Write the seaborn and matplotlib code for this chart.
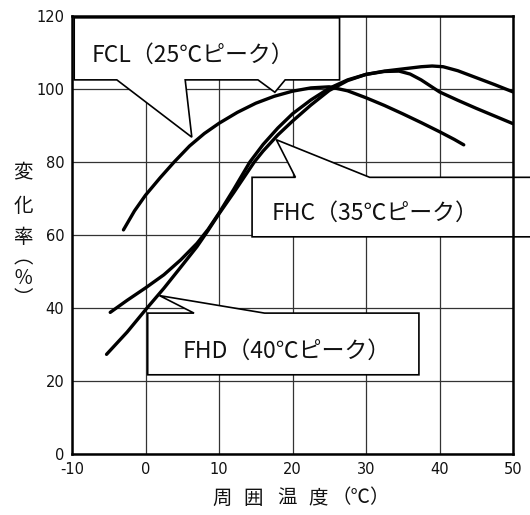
import matplotlib
matplotlib.use("Agg")
import matplotlib.pyplot as plt
from matplotlib.patches import Polygon
import seaborn as sns
import pandas as pd

# ---- data ----
FCL_T = [-3, -1.5, 0, 2, 3.9, 6, 8, 10, 12.5, 15, 17.5, 20, 22.5, 25, 27.5, 30,
         32.5, 35, 37.5, 40, 42, 43.3]
FCL_V = [61.4, 66.6, 70.9, 75.7, 80.0, 84.4, 87.8, 90.6, 93.6, 96.1, 98.0, 99.4,
         100.3, 100.6, 99.5, 97.6, 95.5, 93.2, 90.8, 88.3, 86.2, 84.7]

FHC_T = [-4.8, -2.5, 0, 2.5, 4.8, 7, 8.5, 10, 12, 14.2, 16, 18, 20, 22.5, 25,
         27.5, 30, 32.5, 34.5, 36, 37.5, 40, 42.5, 45, 47.5, 50]
FHC_V = [38.8, 42.1, 45.5, 49.1, 53.2, 57.7, 61.5, 66.0, 72.5, 80.0, 84.8, 89.3,
         93.2, 97.0, 100.2, 102.5, 104.0, 104.8, 104.9, 104.1, 102.5, 99.2, 96.9,
         94.7, 92.6, 90.5]

FHD_T = [-5.3, -2.5, 0, 2.5, 4.8, 7, 8.5, 10, 12, 14.8, 16, 18, 20, 22.5, 25,
         27.5, 30, 32.5, 35, 37.5, 39, 40.5, 42.5, 45, 47.5, 50]
FHD_V = [27.3, 33.4, 39.5, 45.4, 51.2, 56.8, 61.2, 65.8, 71.6, 80.0, 83.0, 87.4,
         91.2, 95.6, 99.6, 102.3, 104.0, 104.9, 105.5, 106.1, 106.3, 106.1, 105.0,
         103.1, 101.2, 99.2]

SERIES = ["FCL", "FHC", "FHD"]
LABELS = ["FCL（25℃ピーク）", "FHC（35℃ピーク）", "FHD（40℃ピーク）"]
X_TICKS = [-10, 0, 10, 20, 30, 40, 50]
X_TICK_LABELS = ["-10", "0", "10", "20", "30", "40", "50"]
Y_TICKS = [0, 20, 40, 60, 80, 100, 120]
Y_TICK_LABELS = ["0", "20", "40", "60", "80", "100", "120"]
YLABEL_CHARS = ["変", "化", "率"]
YLABEL_UNIT = "︵\n％\n︶"
XLABEL_CHARS = ["周", "囲", "温", "度", "（℃）"]

df = pd.concat([
    pd.DataFrame({"temp": FCL_T, "rate": FCL_V, "series": "FCL"}),
    pd.DataFrame({"temp": FHC_T, "rate": FHC_V, "series": "FHC"}),
    pd.DataFrame({"temp": FHD_T, "rate": FHD_V, "series": "FHD"}),
], ignore_index=True)

sns.set_theme(style="white")
plt.rcParams["font.family"] = ["Noto Sans CJK JP", "DejaVu Sans"]
plt.rcParams["axes.unicode_minus"] = False

W, H = 530, 515
fig = plt.figure(figsize=(W / 100, H / 100), dpi=100)
fig.patch.set_facecolor("white")
ax = fig.add_axes([72 / W, 1 - 454 / H, 441 / W, 438 / H])
ax.set_facecolor("white")

sns.lineplot(data=df, x="temp", y="rate", hue="series",
             palette={s: "black" for s in SERIES}, sort=False,
             estimator=None, legend=False, lw=2.4, ax=ax, zorder=5)

ax.set_xlim(-10, 50)
ax.set_ylim(0, 120)
ax.set_xticks(X_TICKS)
ax.set_xticklabels(X_TICK_LABELS, fontfamily="DejaVu Sans", fontsize=10.5)
ax.set_yticks(Y_TICKS)
ax.set_yticklabels(Y_TICK_LABELS, fontfamily="DejaVu Sans", fontsize=10.5)
ax.tick_params(axis="both", length=0, colors="#111")
ax.tick_params(axis="y", pad=5.5)
ax.tick_params(axis="x", pad=6.0)
ax.set_xlabel("")
ax.set_ylabel("")
ax.grid(True, color="#333333", lw=0.9)
ax.set_axisbelow(True)
for sp in ax.spines.values():
    sp.set_color("black")
    sp.set_linewidth(1.8)
    sp.set_zorder(6)

# callout boxes (white filled, outlined)
boxes = [
    [(-9.7, 119.5), (26.4, 119.5), (26.4, 102.5), (19.0, 102.5), (17.6, 99.1),
     (15.3, 102.5), (5.4, 102.5), (6.3, 86.8), (-3.9, 102.5), (-9.7, 102.5)],
    [(14.5, 75.8), (20.4, 75.8), (17.8, 86.1), (30.5, 75.8), (55, 75.8),
     (55, 59.5), (14.5, 59.5)],
    [(0.3, 38.6), (6.6, 38.6), (1.9, 43.4), (16.2, 38.6), (37.2, 38.6),
     (37.2, 21.7), (0.3, 21.7)],
]
for verts in boxes:
    ax.add_patch(Polygon(verts, closed=True, facecolor="white",
                         edgecolor="black", lw=1.2, zorder=3, clip_on=False))

label_pos = [(6.4, 109.3), (31.2, 66.0), (19.2, 28.1)]
for (lx, ly), txt in zip(label_pos, LABELS):
    ax.text(lx, ly, txt, ha="center", va="center", fontsize=16.5,
            color="#111", zorder=4, family=["Noto Sans CJK JP", "DejaVu Sans"])

# vertical y-axis label (stacked characters)
for ch, py in zip(YLABEL_CHARS, [172, 206, 237.5]):
    fig.text(23 / W, 1 - py / H, ch, ha="center", va="center", fontsize=14,
             color="#111")
fig.text(23 / W, 1 - 278 / H, YLABEL_UNIT, ha="center", va="center",
         ma="center", fontsize=14, linespacing=0.95, color="#111")

# spaced x-axis label
for ch, px in zip(XLABEL_CHARS, [222.5, 253.5, 287, 318, 361]):
    fig.text(px / W, 1 - 498 / H, ch, ha="center", va="center", fontsize=14,
             color="#111")

fig.savefig("out.png", dpi=100)
